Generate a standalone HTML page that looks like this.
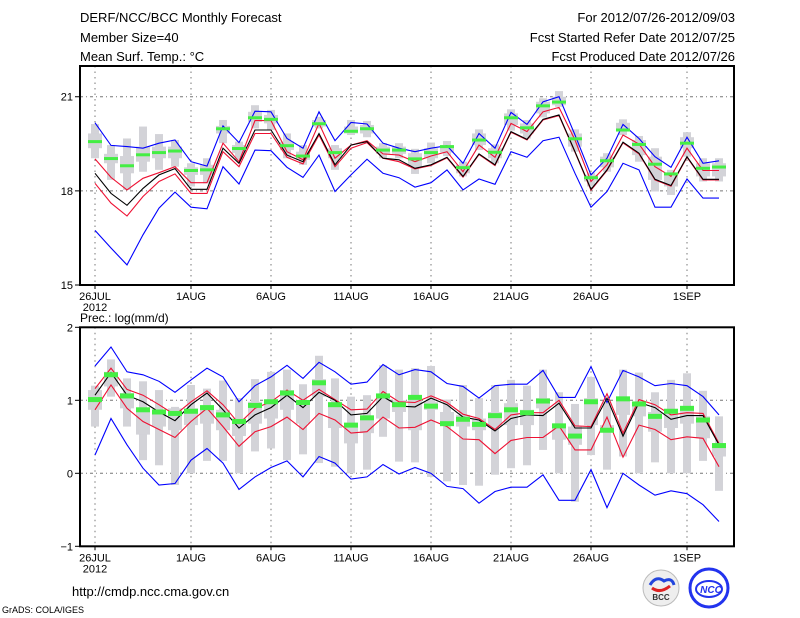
<!DOCTYPE html>
<html><head><meta charset="utf-8"><style>
html,body{margin:0;padding:0;background:#fff;}
svg{display:block;font-family:"Liberation Sans","DejaVu Sans",sans-serif;}
</style></head><body>
<svg id="chart" width="800" height="618" viewBox="0 0 800 618" xmlns="http://www.w3.org/2000/svg">
<rect width="800" height="618" fill="#fff"/>
<g id="texts" font-size="13" fill="#000">
<text x="80" y="22">DERF/NCC/BCC Monthly Forecast</text>
<text x="80" y="42">Member Size=40</text>
<text x="80" y="61">Mean Surf. Temp.: °C</text>
<text x="735" y="22" text-anchor="end">For 2012/07/26-2012/09/03</text>
<text x="735" y="42" text-anchor="end">Fcst Started Refer Date 2012/07/25</text>
<text x="735" y="61" text-anchor="end">Fcst Produced Date 2012/07/26</text>
<text x="80" y="322" font-size="12">Prec.: log(mm/d)</text>
<text x="72" y="596" font-size="13">http://cmdp.ncc.cma.gov.cn</text>
<text x="2" y="613" font-size="9">GrADS: COLA/IGES</text>
</g>
<g>
<circle cx="661" cy="588" r="18" fill="#eee" stroke="#bbb"/>
<path d="M650 585 q6 -10 14 -4 q8 -4 10 4" stroke="#2244dd" stroke-width="3" fill="none"/>
<path d="M652 588 q8 6 18 -2" stroke="#dd2222" stroke-width="3" fill="none"/>
<text x="661" y="600" font-size="8" text-anchor="middle" font-weight="bold" fill="#333">BCC</text>
</g>
<g>
<circle cx="709" cy="588" r="19" fill="#fff" stroke="#2233ee" stroke-width="3"/>
<ellipse cx="709" cy="589" rx="13" ry="8" fill="none" stroke="#2233ee" stroke-width="2"/>
<text x="711" y="593" font-size="10" text-anchor="middle" font-style="italic" font-weight="bold" fill="#2233ee">NCC</text>
</g>
<g id="plots"></g>
</svg>
<script>
// ---------- data ----------
const dateLabels = ["26JUL","1AUG","6AUG","11AUG","16AUG","21AUG","26AUG","1SEP"];
const dateTickDays = [0,6,11,16,21,26,31,37];
const tempTicks = [15,18,21];
const precTicks = [-1,0,1,2];
// temperature (°C)
const tBlueHi = [20.17,19.45,19.41,19.36,19.52,19.62,18.93,18.79,20.07,19.54,20.54,20.52,19.67,19.36,20.52,19.60,20.18,20.13,19.52,19.36,19.25,19.36,19.44,18.88,19.83,19.36,20.50,20.12,20.84,21.00,19.78,18.51,19.04,20.12,19.67,19.09,18.75,19.71,18.88,18.96];
const tRedHi = [19.02,18.43,18.03,18.40,18.58,18.77,18.26,18.26,19.52,18.93,20.24,20.24,19.25,18.99,20.15,19.04,19.46,19.60,19.18,19.14,18.93,19.11,19.25,18.61,19.46,19.07,20.15,19.89,20.52,20.66,19.62,18.30,18.83,19.78,19.49,18.77,18.46,19.36,18.65,18.65];
const tMean = [18.56,17.92,17.54,18.08,18.51,18.71,18.05,18.05,19.36,18.88,19.94,19.94,19.14,18.93,19.83,18.83,19.46,19.57,19.04,18.99,18.72,18.83,19.07,18.46,19.18,18.83,19.89,19.64,20.28,20.42,19.25,18.05,18.67,19.55,19.20,18.37,18.17,19.09,18.37,18.37];
const tRedLo = [18.24,17.61,17.20,17.82,18.30,18.54,17.92,17.92,19.25,18.77,19.83,19.83,19.07,18.86,19.78,18.77,19.36,19.54,19.04,18.93,18.70,18.81,19.05,18.44,19.16,18.81,19.87,19.62,20.26,20.40,19.23,18.02,18.65,19.53,19.18,18.35,18.15,19.07,18.35,18.35];
const tBlueLo = [16.74,16.18,15.64,16.60,17.45,17.96,17.48,17.43,18.77,18.22,19.30,19.28,18.75,18.43,19.14,17.98,18.51,19.01,18.56,18.42,18.12,18.26,18.67,18.03,18.38,18.21,19.25,19.07,19.60,19.71,18.56,17.48,17.98,18.88,18.67,17.48,17.48,18.38,17.77,17.77];
const tObs = [19.57,19.03,18.80,19.15,19.22,19.27,18.65,18.67,19.98,19.35,20.33,20.28,19.44,19.11,20.14,19.22,19.90,19.98,19.30,19.30,19.02,19.22,19.41,18.74,19.62,19.23,20.33,20.01,20.71,20.83,19.66,18.42,18.96,19.94,19.48,18.85,18.54,19.52,18.72,18.76];
const tWhiskHi = [20.13,19.46,19.67,20.05,19.81,19.62,18.88,19.04,20.26,19.57,20.73,20.58,19.83,19.46,20.36,19.46,20.26,20.23,19.52,19.52,19.34,19.54,19.59,18.93,19.96,19.48,20.60,20.26,20.95,21.18,19.96,18.58,19.20,20.28,19.75,19.36,18.67,19.87,19.04,19.04];
const tBoxHi = [19.83,19.18,19.11,19.41,19.41,19.41,18.75,18.83,20.07,19.46,20.52,20.42,19.57,19.25,20.26,19.36,20.05,20.10,19.41,19.41,19.20,19.36,19.46,18.83,19.83,19.36,20.47,20.15,20.84,21.00,19.83,18.51,19.09,20.17,19.62,19.09,18.56,19.71,18.88,18.88];
const tBoxLo = [19.36,18.88,18.56,18.93,19.04,19.04,18.51,18.51,19.83,19.20,20.20,20.15,19.30,18.99,20.05,19.04,19.83,19.83,19.18,19.18,18.77,19.04,19.22,18.56,19.46,19.04,20.10,19.83,20.47,20.73,19.41,18.30,18.75,19.89,19.14,18.35,18.14,19.36,18.46,18.46];
const tWhiskLo = [19.04,18.35,18.03,18.61,18.67,18.77,18.14,18.24,19.52,18.99,19.99,19.94,19.04,18.83,19.99,18.67,19.78,19.71,19.04,19.04,18.54,18.88,19.11,18.46,19.30,18.88,19.92,19.67,20.34,20.68,19.25,18.14,18.61,19.78,18.93,17.98,17.87,19.09,18.30,18.30];
// precipitation log(mm/d)
const pBlueHi = [1.47,1.73,1.39,1.35,1.26,1.11,1.28,1.44,1.32,0.98,1.20,1.32,1.48,1.30,1.52,1.39,1.22,1.25,1.49,1.35,1.42,1.39,1.23,1.19,1.03,1.20,1.22,1.22,1.41,1.04,1.04,1.46,0.97,1.41,1.32,1.20,1.23,1.20,1.05,0.80];
const pRedHi = [1.16,1.44,1.15,1.07,0.94,0.80,0.98,1.13,0.94,0.68,0.89,0.98,1.14,1.00,1.15,1.01,0.87,0.88,1.12,0.98,0.97,1.06,0.97,0.81,0.75,0.60,0.80,0.83,0.83,1.00,0.65,0.64,1.09,0.55,1.01,0.94,0.80,0.83,0.82,0.41];
const pMean = [1.07,1.38,1.07,0.98,0.84,0.72,0.94,1.10,0.87,0.62,0.80,0.90,1.07,0.90,1.11,1.00,0.80,0.82,1.05,0.92,0.91,1.03,0.94,0.77,0.73,0.58,0.75,0.80,0.79,0.96,0.62,0.62,1.03,0.51,0.97,0.90,0.74,0.79,0.79,0.39];
const pRedLo = [0.87,1.21,0.89,0.71,0.60,0.49,0.71,0.89,0.64,0.37,0.57,0.64,0.77,0.60,0.82,0.73,0.55,0.57,0.77,0.62,0.63,0.73,0.64,0.47,0.46,0.27,0.45,0.49,0.49,0.65,0.32,0.32,0.77,0.22,0.66,0.60,0.46,0.50,0.48,0.09];
const pBlueLo = [0.25,0.75,0.39,0.07,-0.16,-0.14,0.18,0.34,0.14,-0.22,-0.05,0.08,0.17,-0.05,0.23,0.14,-0.08,-0.05,0.12,-0.01,0.08,0.00,-0.18,-0.21,-0.41,-0.25,-0.19,-0.19,-0.02,-0.37,-0.37,0.05,-0.47,0.00,-0.16,-0.30,-0.24,-0.28,-0.43,-0.66];
const pObs = [1.01,1.35,1.06,0.87,0.84,0.82,0.85,0.90,0.80,0.71,0.93,0.98,1.10,0.97,1.24,0.94,0.66,0.76,1.06,0.94,1.04,0.92,0.68,0.74,0.67,0.79,0.87,0.83,0.99,0.65,0.51,0.98,0.59,1.02,0.95,0.78,0.85,0.89,0.73,0.38];
const pWhiskHi = [1.20,1.56,1.30,1.26,1.14,0.91,1.21,1.16,1.27,1.03,1.29,1.39,1.42,1.22,1.61,1.30,1.05,1.07,1.48,1.42,1.44,1.47,1.01,1.21,1.03,1.21,1.28,1.20,1.42,1.11,0.95,1.32,0.97,1.42,1.38,1.11,1.28,1.37,1.13,0.78];
const pBoxHi = [1.14,1.39,1.10,0.89,0.87,0.89,0.89,0.91,0.87,0.75,0.98,1.00,1.14,0.96,1.29,0.96,0.66,0.78,1.07,1.00,1.05,0.98,0.84,0.80,0.75,0.84,0.96,0.87,1.03,0.66,0.64,1.03,0.66,1.05,0.98,0.84,0.87,0.91,0.78,0.41];
const pBoxLo = [0.87,1.19,0.89,0.53,0.64,0.59,0.66,0.68,0.59,0.51,0.68,0.75,0.87,0.68,1.05,0.62,0.41,0.55,0.75,0.84,0.59,0.87,0.66,0.64,0.59,0.64,0.66,0.66,0.89,0.46,0.39,0.66,0.59,0.80,0.78,0.57,0.62,0.68,0.48,0.23];
const pWhiskLo = [0.64,1.05,0.64,0.18,0.11,-0.16,0.00,0.17,0.17,0.00,0.30,0.34,0.18,0.26,0.14,0.09,0.00,0.05,0.50,0.16,0.15,-0.05,-0.11,-0.16,-0.17,-0.02,0.07,0.11,0.32,0.00,-0.39,0.25,0.05,0.23,0.00,0.15,0.00,0.00,0.17,-0.24];

// ---------- drawing ----------
const NS = "http://www.w3.org/2000/svg";
const root = document.getElementById('plots');
const X0 = 80, X1 = 734;
const xDay = d => 95 + 16 * d;
function mk(tag, attrs, parent) {
  const e = document.createElementNS(NS, tag);
  for (const k in attrs) e.setAttribute(k, attrs[k]);
  parent.appendChild(e);
  return e;
}
function panel(name, top, bottom, vMin, vMax, ticks, refLines, s) {
  const g = mk('g', {}, root);
  
  
  const yv = v => bottom - (v - vMin) / (vMax - vMin) * (bottom - top);
  // grid
  dateTickDays.forEach(d => {
    const l = mk('line', {x1: xDay(d), x2: xDay(d), y1: top, y2: bottom, stroke: '#777', 'stroke-dasharray': '1.5,4', 'stroke-width': 1}, g);
    
    
  });
  refLines.forEach(v => {
    const l = mk('line', {x1: X0, x2: X1, y1: yv(v), y2: yv(v), stroke: '#777', 'stroke-dasharray': '3,3,1,3', 'stroke-width': 1}, g);
    
    
  });
  // boxes
  for (let i = 0; i < s.wHi.length; i++) {
    const x = xDay(i);
    const w = mk('rect', {x: x - 4, y: yv(s.wHi[i]), width: 8, height: Math.max(1, yv(s.wLo[i]) - yv(s.wHi[i])), fill: '#d3d3d8'}, g);
    
    
    const b = mk('rect', {x: x - 7, y: yv(s.bHi[i]), width: 14, height: Math.max(1, yv(s.bLo[i]) - yv(s.bHi[i])), fill: '#d3d3d8'}, g);
    
    
  }
  // lines
  const lines = [[s.blueLo, '#0000ff', 'blue-lower-line'], [s.blueHi, '#0000ff', 'blue-upper-line'], [s.redLo, '#ee1133', 'red-lower-line'], [s.redHi, '#ee1133', 'red-upper-line'], [s.mean, '#000', 'mean-line']];
  lines.forEach(([arr, c, nm]) => {
    const p = mk('polyline', {points: arr.map((v, i) => xDay(i) + ',' + yv(v).toFixed(1)).join(' '), fill: 'none', stroke: c, 'stroke-width': 1.1}, g);
    
    
  });
  // observed marks
  s.obs.forEach((v, i) => {
    const r = mk('rect', {x: xDay(i) - 7, y: yv(v) - s.mh / 2, width: 14, height: s.mh, fill: '#44ee44'}, g);
    
    
  });
  // frame
  const f = mk('rect', {x: X0, y: top, width: X1 - X0, height: bottom - top, fill: 'none', stroke: '#000', 'stroke-width': 2}, g);
  
  
  // y ticks
  ticks.forEach(v => {
    const t = mk('line', {x1: X0 - 5, x2: X0, y1: yv(v), y2: yv(v), stroke: '#000'}, g);
    
    
    const tx = mk('text', {x: X0 - 7, y: yv(v) + 4, 'text-anchor': 'end', 'font-size': 11}, g);
    tx.textContent = (v < 0 ? '\u2212' + Math.abs(v) : String(v));
    
    
  });
  // x ticks
  dateTickDays.forEach((d, k) => {
    const t = mk('line', {x1: xDay(d), x2: xDay(d), y1: bottom, y2: bottom + 4, stroke: '#000'}, g);
    
    
    const tx = mk('text', {x: xDay(d), y: bottom + 15, 'text-anchor': 'middle', 'font-size': 11}, g);
    tx.textContent = dateLabels[k];
    
    
  });
  const yr = mk('text', {x: xDay(0), y: bottom + 26, 'text-anchor': 'middle', 'font-size': 11}, g);
  yr.textContent = '2012';
  
  
}
panel('temperature-panel', 66, 285, 15, 21.98, tempTicks, [18, 21],
  {wHi: tWhiskHi, wLo: tWhiskLo, bHi: tBoxHi, bLo: tBoxLo, blueHi: tBlueHi, blueLo: tBlueLo, redHi: tRedHi, redLo: tRedLo, mean: tMean, obs: tObs, mh: 3});
panel('precipitation-panel', 327.3, 546.3, -1, 2, precTicks, [0, 1],
  {wHi: pWhiskHi, wLo: pWhiskLo, bHi: pBoxHi, bLo: pBoxLo, blueHi: pBlueHi, blueLo: pBlueLo, redHi: pRedHi, redLo: pRedLo, mean: pMean, obs: pObs, mh: 5});
</script>
</body></html>
